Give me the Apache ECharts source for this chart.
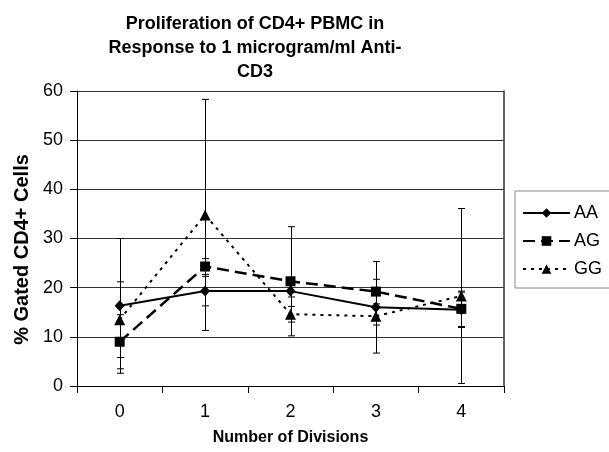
<!DOCTYPE html>
<html><head><meta charset="utf-8">
<script src="https://cdn.jsdelivr.net/npm/echarts@6/dist/echarts.min.js"></script>
<style>html,body{margin:0;padding:0;background:#fff}#c{width:609px;height:452px}</style>
</head><body><div id="c"></div>
<script>
var categories = ['0', '1', '2', '3', '4'];
var aa = [16.3, 19.3, 19.3, 16.0, 15.5];
var ag = [9.0, 24.3, 21.3, 19.2, 15.7];
var gg = [13.5, 34.8, 14.6, 14.2, 18.3];
var aaErr = [13.7, 3.0, 1.2, 9.3, 3.6];
var agErr = [5.5, 1.6, 11.1, 2.5, 3.6];
var ggErr = [7.7, 23.5, 1.6, 1.8, 17.8];
var yTicks = [0, 10, 20, 30, 40, 50, 60];

var FONT = 'Liberation Sans';
function errData(vals, errs) {
  return vals.map(function (v, i) { return [i, v - errs[i], v + errs[i]]; });
}
function errSeries(name, vals, errs) {
  return {
    type: 'custom', name: name + '_err', silent: true, z: 1,
    data: errData(vals, errs),
    renderItem: function (params, api) {
      var lo = api.coord([api.value(0), Math.max(api.value(1), 0)]);
      var hi = api.coord([api.value(0), api.value(2)]);
      var x = Math.round(lo[0]) + 0.5, w = 3.5;
      var s = { stroke: '#000', lineWidth: 1 };
      return { type: 'group', children: [
        { type: 'line', shape: { x1: x, y1: lo[1], x2: x, y2: hi[1] }, style: s },
        { type: 'line', shape: { x1: x - w, y1: hi[1], x2: x + w, y2: hi[1] }, style: s },
        { type: 'line', shape: { x1: x - w, y1: lo[1], x2: x + w, y2: lo[1] }, style: s }
      ]};
    }
  };
}
var chart = echarts.init(document.getElementById('c'), null, { renderer: 'canvas' });
chart.setOption({
  animation: false,
  backgroundColor: '#fff',
  title: {
    text: 'Proliferation of CD4+ PBMC in\nResponse to 1 microgram/ml Anti-\nCD3',
    left: 250, top: 7, textAlign: 'center',
    textStyle: { fontFamily: FONT, fontWeight: 'bold', fontSize: 18, lineHeight: 24, color: '#000' }
  },
  legend: {
    orient: 'vertical', left: 515, top: 191,
    padding: [13, 60, 10, 7], itemGap: 10, itemWidth: 47, itemHeight: 12,
    borderColor: '#888', borderWidth: 1,
    textStyle: { fontFamily: FONT, fontSize: 18, color: '#000', padding: [0, 0, 0, -1] },
    data: ['AA', 'AG', 'GG']
  },
  grid: { left: 77, right: 105, top: 91, bottom: 66, show: false },
  xAxis: {
    type: 'category', data: categories, boundaryGap: true,
    name: 'Number of Divisions', nameLocation: 'middle', nameGap: 44,
    nameTextStyle: { fontFamily: FONT, fontWeight: 'bold', fontSize: 16, color: '#000' },
    axisLine: { lineStyle: { color: '#000', width: 1 } },
    axisTick: { show: true, inside: false, length: 7, alignWithLabel: false, lineStyle: { color: '#000' } },
    axisLabel: { margin: 17, fontFamily: FONT, fontSize: 18, color: '#000' }
  },
  yAxis: [{
    type: 'value', min: yTicks[0], max: yTicks[yTicks.length - 1], interval: 10,
    name: '% Gated CD4+ Cells', nameLocation: 'middle', nameGap: 45,
    nameTextStyle: { fontFamily: FONT, fontWeight: 'bold', fontSize: 20, color: '#000', padding: [0, 22, 0, 0] },
    axisLine: { show: true, lineStyle: { color: '#000', width: 1 } },
    axisTick: { show: true, length: 7, lineStyle: { color: '#000' } },
    axisLabel: { margin: 14, fontFamily: FONT, fontSize: 18, color: '#000' },
    splitLine: { show: true, lineStyle: { color: '#333', width: 1 } }
  }, {
    type: 'value', position: 'right', min: 0, max: 60, interval: 10,
    axisLine: { show: true, lineStyle: { color: '#333', width: 1.5 } },
    axisTick: { show: false }, axisLabel: { show: false }, splitLine: { show: false }
  }],
  series: [
    errSeries('AA', aa, aaErr), errSeries('AG', ag, agErr), errSeries('GG', gg, ggErr),
    { name: 'GG', type: 'line', data: gg, z: 3, symbol: 'triangle', symbolSize: 11,
      lineStyle: { color: '#000', width: 2, type: [3, 5] }, itemStyle: { color: '#000' } },
    { name: 'AG', type: 'line', data: ag, z: 4, symbol: 'rect', symbolSize: 10,
      lineStyle: { color: '#000', width: 2.5, type: [12, 6] }, itemStyle: { color: '#000' } },
    { name: 'AA', type: 'line', data: aa, z: 5, symbol: 'diamond', symbolSize: [10, 11],
      lineStyle: { color: '#000', width: 2, type: 'solid' }, itemStyle: { color: '#000' } }
  ]
});
</script></body></html>
